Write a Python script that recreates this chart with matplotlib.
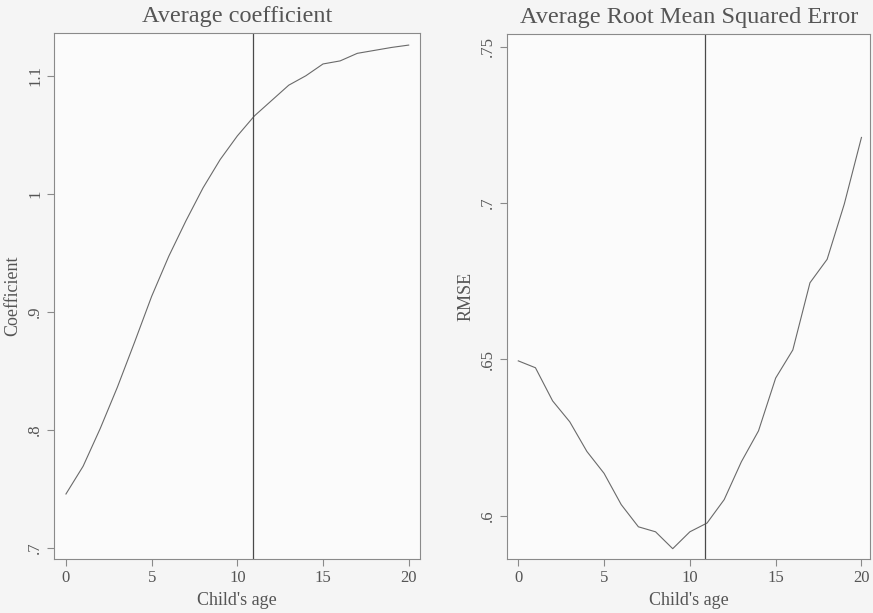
import numpy as np
import matplotlib
matplotlib.use("Agg")
import matplotlib.pyplot as plt

# Child's age (x) shared by both panels
age = [0, 1, 2, 3, 4, 5, 6, 7, 8, 9, 10,
       11, 12, 13, 14, 15, 16, 17, 18, 19, 20]

# Average coefficient by age
coef = [0.7455, 0.769, 0.801, 0.836, 0.874, 0.913, 0.947, 0.977, 1.005, 1.029, 1.049,
        1.066, 1.079, 1.092, 1.100, 1.110, 1.1126, 1.119, 1.1215, 1.124, 1.126]

# Average RMSE by age
rmse = [0.6495, 0.6473, 0.6367, 0.630, 0.6205, 0.6135, 0.6035, 0.5964, 0.5948, 0.5894, 0.5948,
        0.5976, 0.6051, 0.6172, 0.6271, 0.644, 0.653, 0.6745, 0.682, 0.6997, 0.721]

cutoff_age = 10.9

coef_ticks = [0.7, 0.8, 0.9, 1.0, 1.1]
coef_tick_labels = [".7", ".8", ".9", "1", "1.1"]
rmse_ticks = [0.60, 0.65, 0.70, 0.75]
rmse_tick_labels = [".6", ".65", ".7", ".75"]
age_ticks = [0, 5, 10, 15, 20]

plt.rcParams['font.family'] = ['Liberation Serif', 'DejaVu Serif']

text_col = '#555555'
line_col = '#6a6a6a'
spine_col = '#8a8a8a'

fig = plt.figure(figsize=(8.73, 6.13), dpi=100, facecolor='#f5f5f5')


def style_axes(ax, title, ylabel, yticks, ylabels):
    ax.set_facecolor('#fbfbfb')
    for s in ax.spines.values():
        s.set_color(spine_col)
        s.set_linewidth(0.8)
    ax.set_title(title, fontsize=17.5, color=text_col, pad=8)
    ax.set_xlabel("Child's age", fontsize=13, color=text_col, labelpad=4)
    ax.set_ylabel(ylabel, fontsize=13, color=text_col, labelpad=4)
    ax.set_xticks(age_ticks)
    ax.set_xticklabels([str(a) for a in age_ticks])
    ax.set_yticks(yticks)
    ax.set_yticklabels(ylabels, rotation=90, va='center')
    ax.tick_params(axis='both', which='both', direction='out', length=5,
                   width=0.8, color=spine_col, labelcolor=text_col,
                   labelsize=12, pad=3, top=False, right=False)


ax1 = fig.add_axes([0.0622, 0.0881, 0.4189, 0.8576])
ax1.plot(age, coef, color=line_col, linewidth=0.8)
ax1.axvline(cutoff_age, color='#4a4a4a', linewidth=0.9)
ax1.set_xlim(-0.68, 20.66)
ax1.set_ylim(0.6904, 1.136)
style_axes(ax1, "Average coefficient", "Coefficient", coef_ticks, coef_tick_labels)

ax2 = fig.add_axes([0.5811, 0.0876, 0.4155, 0.8564])
ax2.plot(age, rmse, color=line_col, linewidth=0.8)
ax2.axvline(cutoff_age, color='#4a4a4a', linewidth=0.9)
ax2.set_xlim(-0.64, 20.5)
ax2.set_ylim(0.586, 0.754)
style_axes(ax2, "Average Root Mean Squared Error", "RMSE", rmse_ticks, rmse_tick_labels)

fig.savefig("out.png", dpi=100, facecolor=fig.get_facecolor())
